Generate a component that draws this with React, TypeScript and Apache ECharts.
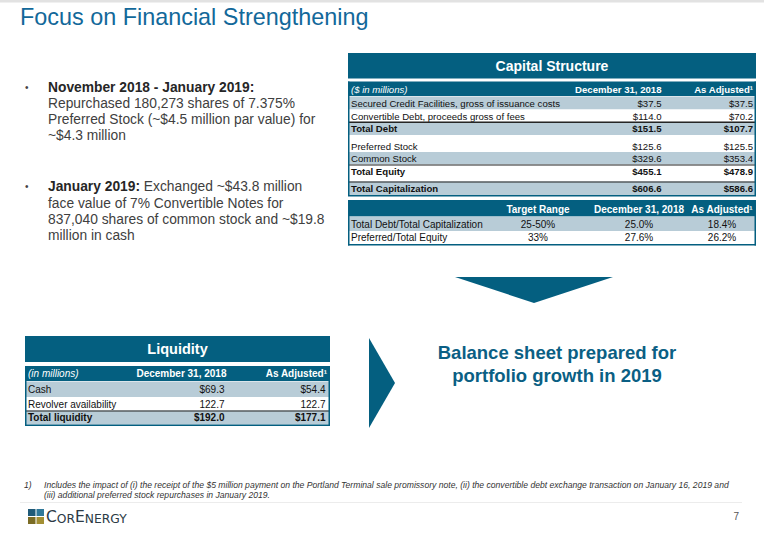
import React, { useEffect, useRef } from "react";
import * as echarts from "echarts";

// ---------- Data ----------
const slideTitle = "Focus on Financial Strengthening";

const bulletHeads = ["November 2018 - January 2019:", "January 2019:"];
const bulletBodies = [
  ["Repurchased 180,273 shares of 7.375%", "Preferred Stock (~$4.5 million par value) for", "~$4.3 million"],
  ["Exchanged ~$43.8 million", "face value of 7% Convertible Notes for", "837,040 shares of common stock and ~$19.8", "million in cash"],
];
const bulletHeadOwnLine = [true, false];

const capTitle = "Capital Structure";
const capColumns = ["($ in millions)", "December 31, 2018", "As Adjusted¹"];
const capLabels = [
  "Secured Credit Facilities, gross of issuance costs",
  "Convertible Debt, proceeds gross of fees",
  "Total Debt",
  "Preferred Stock",
  "Common Stock",
  "Total Equity",
  "Total Capitalization",
];
const capDec2018 = [37.5, 114.0, 151.5, 125.6, 329.6, 455.1, 606.6];
const capAdjusted = [37.5, 70.2, 107.7, 125.5, 353.4, 478.9, 586.6];
const capBold = [false, false, true, false, false, true, true];

const ratioColumns = ["Target Range", "December 31, 2018", "As Adjusted¹"];
const ratioLabels = ["Total Debt/Total Capitalization", "Preferred/Total Equity"];
const ratioTarget = ["25-50%", "33%"];
const ratioDec2018 = [25.0, 27.6];
const ratioAdjusted = [18.4, 26.2];

const liqTitle = "Liquidity";
const liqColumns = ["(in millions)", "December 31, 2018", "As Adjusted¹"];
const liqLabels = ["Cash", "Revolver availability", "Total liquidity"];
const liqDec2018 = [69.3, 122.7, 192.0];
const liqAdjusted = [54.4, 122.7, 177.1];
const liqDollar = [true, false, true];
const liqBold = [false, false, true];

const calloutLines = ["Balance sheet prepared for", "portfolio growth in 2019"];

const footnoteMark = "1)";
const footnoteLines = [
  "Includes the impact of (i) the receipt of the $5 million payment on the Portland Terminal sale promissory note, (ii) the convertible debt exchange transaction on January 16, 2019 and",
  "(iii) additional preferred stock repurchases in January 2019.",
];
const pageNumber = "7";

// ---------- Style ----------
const FONT = "'Liberation Sans', Arial, sans-serif";
const LOGO_FONT = "'DejaVu Sans', sans-serif";
const TEAL = "#045f80";
const LIGHT = "#b8ccd7";
const TITLE_BLUE = "#12689a";
const INK = "#111111";

// ---------- Helpers ----------
type TOpts = {
  size: number;
  bold?: boolean;
  italic?: boolean;
  fill?: string;
  align?: "left" | "center" | "right";
};
const txt = (x: number, y: number, t: string, o: TOpts) => ({
  type: "text",
  x,
  y,
  silent: true,
  style: {
    text: t,
    fill: o.fill || INK,
    fontSize: o.size,
    fontFamily: FONT,
    fontWeight: o.bold ? "bold" : "normal",
    fontStyle: o.italic ? "italic" : "normal",
    align: o.align || "left",
    verticalAlign: "middle",
  },
});
const rect = (x: number, y: number, w: number, h: number, fill: string) => ({
  type: "rect",
  silent: true,
  shape: { x, y, width: w, height: h },
  style: { fill },
});
const hline = (x1: number, x2: number, y: number, stroke: string, lw = 1) => ({
  type: "line",
  silent: true,
  shape: { x1, y1: y, x2, y2: y },
  style: { stroke, lineWidth: lw },
});
const vline = (x: number, y1: number, y2: number, stroke: string, lw = 1) => ({
  type: "line",
  silent: true,
  shape: { x1: x, y1, x2: x, y2 },
  style: { stroke, lineWidth: lw },
});
const money = (v: number) => "$" + v.toFixed(1);

function buildElements() {
  const els: any[] = [];

  // top rule + title
  els.push(rect(0, 0, 764, 2.5, "#e2e2e2"));
  els.push(txt(20, 17, slideTitle, { size: 23.4, fill: TITLE_BLUE }));

  // bullets
  const lh = 16.3;
  const bulletStarts = [87, 186.7];
  bulletHeads.forEach((head, i) => {
    let y = bulletStarts[i];
    els.push(txt(25, y, "•", { size: 10, fill: "#444" }));
    if (bulletHeadOwnLine[i]) {
      els.push(txt(48, y, head, { size: 13.8, bold: true, fill: "#262626" }));
      y += lh;
      bulletBodies[i].forEach((line) => {
        els.push(txt(48, y, line, { size: 13.8, fill: "#404040" }));
        y += lh;
      });
    } else {
      bulletBodies[i].forEach((line, j) => {
        if (j === 0) {
          els.push({
            type: "text",
            x: 48,
            y,
            silent: true,
            style: {
              text: `{b|${head}}{r| ${line}}`,
              verticalAlign: "middle",
              rich: {
                b: { fontSize: 13.8, fontFamily: FONT, fontWeight: "bold", fill: "#262626" },
                r: { fontSize: 13.8, fontFamily: FONT, fill: "#404040" },
              },
            },
          });
        } else {
          els.push(txt(48, y, line, { size: 13.8, fill: "#404040" }));
        }
        y += lh;
      });
    }
  });

  // ---------- Capital structure ----------
  const cL = 348, cR = 756;
  els.push(rect(cL, 53, cR - cL, 25.5, TEAL));
  els.push(txt((cL + cR) / 2, 66, capTitle, { size: 14, bold: true, fill: "#fff", align: "center" }));

  const capTop = 81.5;
  els.push(rect(cL, capTop, cR - cL, 14.5, TEAL));
  const capRowTops = [96.5, 109.5, 122, 140, 152, 164.5, 181.5];
  const capRowBottoms = [109.5, 122, 135, 152, 164.5, 177.5, 195];
  const capRowFills = [LIGHT, "#ffffff", LIGHT, "#ffffff", LIGHT, "#ffffff", LIGHT];
  const capRuleAbove = [false, false, true, false, false, true, true];
  capLabels.forEach((_, i) => {
    els.push(rect(cL, capRowTops[i], cR - cL, capRowBottoms[i] - capRowTops[i], capRowFills[i]));
  });
  const capC1 = 661.5, capC2 = 753;
  const hy = (capTop + 96.5) / 2 + 0.3;
  els.push(txt(351, hy, capColumns[0], { size: 9.6, italic: true, fill: "#fff" }));
  els.push(txt(capC1, hy, capColumns[1], { size: 9.6, bold: true, fill: "#fff", align: "right" }));
  els.push(txt(capC2, hy, capColumns[2], { size: 9.6, bold: true, fill: "#fff", align: "right" }));
  capLabels.forEach((label, i) => {
    if (capRuleAbove[i]) els.push(hline(cL, cR, capRowTops[i] + 0.5, "#222", 1.2));
    const y = (capRowTops[i] + capRowBottoms[i]) / 2 + 0.3;
    const b = capBold[i];
    els.push(txt(351, y, label, { size: 9.6, bold: b }));
    els.push(txt(capC1, y, money(capDec2018[i]), { size: 9.6, bold: b, align: "right" }));
    els.push(txt(capC2, y, money(capAdjusted[i]), { size: 9.6, bold: b, align: "right" }));
  });
  els.push(hline(cL, cR, 121.8, "#333", 0.8));
  // borders
  els.push(vline(cL + 0.75, capTop, 196, TEAL, 1.5));
  els.push(vline(cR - 0.75, capTop, 196, TEAL, 1.5));
  els.push(hline(cL, cR, 195.8, TEAL, 1.6));

  // ---------- Ratio table ----------
  const rTop = 200;
  els.push(rect(cL, rTop, cR - cL, 16.5, TEAL));
  const rRowTops = [216.5, 231];
  const rRowBottoms = [231, 244];
  const rFills = [LIGHT, "#ffffff"];
  const rCols = [538, 639, 722];
  ratioColumns.forEach((c, j) => {
    els.push(txt(rCols[j], 209, c, { size: 10, bold: true, fill: "#fff", align: "center" }));
  });
  ratioLabels.forEach((label, i) => {
    els.push(rect(cL, rRowTops[i], cR - cL, rRowBottoms[i] - rRowTops[i], rFills[i]));
    const y = (rRowTops[i] + rRowBottoms[i]) / 2 + 0.3;
    els.push(txt(351, y, label, { size: 10 }));
    els.push(txt(rCols[0], y, ratioTarget[i], { size: 10, align: "center" }));
    els.push(txt(rCols[1], y, ratioDec2018[i].toFixed(1) + "%", { size: 10, align: "center" }));
    els.push(txt(rCols[2], y, ratioAdjusted[i].toFixed(1) + "%", { size: 10, align: "center" }));
  });
  els.push(vline(cL + 0.75, rTop, 245.5, TEAL, 1.5));
  els.push(vline(cR - 0.75, rTop, 245.5, TEAL, 1.5));
  els.push(hline(cL, cR, 244.8, TEAL, 1.6));

  // down arrow
  els.push({
    type: "polygon",
    silent: true,
    shape: { points: [[455, 277], [613, 277], [534, 303]] },
    style: { fill: TEAL },
  });

  // ---------- Liquidity ----------
  const lL = 25, lR = 330;
  els.push(rect(lL, 336, lR - lL, 26, TEAL));
  els.push(txt((lL + lR) / 2, 349, liqTitle, { size: 14.5, bold: true, fill: "#fff", align: "center" }));
  const lTop = 366;
  els.push(rect(lL, lTop, lR - lL, 15, TEAL));
  const lRowTops = [381.5, 397, 410.5];
  const lRowBottoms = [397, 410.5, 424.5];
  const lFills = [LIGHT, "#ffffff", LIGHT];
  const lhy = 373.8;
  els.push(txt(28, lhy, liqColumns[0], { size: 10, italic: true, fill: "#fff" }));
  els.push(txt(226.5, lhy, liqColumns[1], { size: 10, bold: true, fill: "#fff", align: "right" }));
  els.push(txt(327, lhy, liqColumns[2], { size: 10, bold: true, fill: "#fff", align: "right" }));
  liqLabels.forEach((label, i) => {
    els.push(rect(lL, lRowTops[i], lR - lL, lRowBottoms[i] - lRowTops[i], lFills[i]));
    if (liqBold[i]) els.push(hline(lL, lR, lRowTops[i] + 0.5, "#222", 1.2));
    const y = (lRowTops[i] + lRowBottoms[i]) / 2 + 0.3;
    const b = liqBold[i];
    const f = (v: number) => (liqDollar[i] ? money(v) : v.toFixed(1));
    els.push(txt(28, y, label, { size: 10, bold: b }));
    els.push(txt(224.5, y, f(liqDec2018[i]), { size: 10, bold: b, align: "right" }));
    els.push(txt(325.5, y, f(liqAdjusted[i]), { size: 10, bold: b, align: "right" }));
  });
  els.push(vline(lL + 0.75, lTop, 426, TEAL, 1.5));
  els.push(vline(lR - 0.75, lTop, 426, TEAL, 1.5));
  els.push(hline(lL, lR, 425.2, TEAL, 1.6));

  // right arrow
  els.push({
    type: "polygon",
    silent: true,
    shape: { points: [[369, 338], [395, 383], [369, 428]] },
    style: { fill: TEAL },
  });

  // callout
  calloutLines.forEach((line, i) => {
    els.push(txt(557, 352 + i * 23, line, { size: 18.5, bold: true, fill: "#0b5f84", align: "center" }));
  });

  // footnote
  els.push(txt(24, 484.5, footnoteMark, { size: 8.6, italic: true, fill: "#333" }));
  footnoteLines.forEach((line, i) => {
    els.push(txt(44, 484.5 + i * 10, line, { size: 8.6, italic: true, fill: "#333" }));
  });
  els.push(hline(20, 742, 502.5, "#ececec", 1));

  // logo
  els.push(rect(28, 509, 7.5, 7, "#1f5a78"));
  els.push(rect(36.5, 509, 7.5, 7, "#2f7899"));
  els.push(rect(28, 517, 7.5, 7, "#7b6c25"));
  els.push(rect(36.5, 517, 7.5, 7, "#a38f34"));
  els.push({
    type: "text",
    x: 46,
    y: 524.5,
    silent: true,
    style: {
      text: "{a|C}{b|OR}{a|E}{b|NERGY}",
      verticalAlign: "bottom",
      rich: {
        a: { fontSize: 15.5, fontFamily: LOGO_FONT, fill: "#2c3a45", verticalAlign: "bottom" },
        b: { fontSize: 12.3, fontFamily: LOGO_FONT, fill: "#2c3a45", verticalAlign: "bottom" },
      },
    },
  });

  els.push(txt(739, 516, pageNumber, { size: 10, fill: "#555", align: "right" }));

  return els;
}

export default function App() {
  const ref = useRef<HTMLDivElement>(null);
  useEffect(() => {
    if (!ref.current) return;
    const chart = echarts.init(ref.current, null, { renderer: "svg", width: 764, height: 533 });
    chart.setOption({
      animation: false,
      backgroundColor: "#ffffff",
      graphic: { elements: buildElements() },
    });
    return () => chart.dispose();
  }, []);
  return (
    <div
      ref={ref}
      style={{ position: "fixed", left: 0, top: 0, width: 764, height: 533, background: "#fff" }}
    />
  );
}
